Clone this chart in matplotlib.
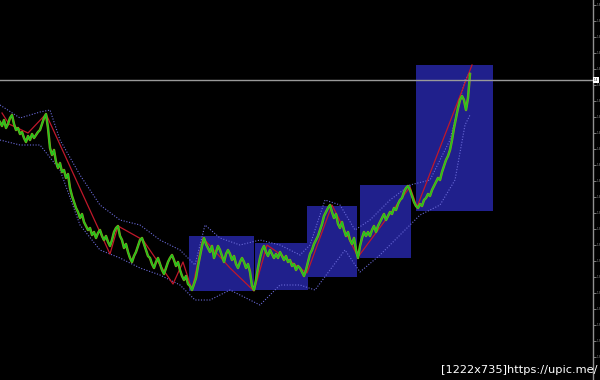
import numpy as np
import matplotlib
matplotlib.use("Agg")
import matplotlib.pyplot as plt
from matplotlib.patches import Rectangle
from matplotlib.ticker import FuncFormatter

# price (close) sampled every 2 bars
bars = np.arange(0, 472, 2)
close = [378, 374, 380, 372, 376, 382, 385, 376, 370, 372, 366, 368, 362, 358, 364, 360,
         366, 362, 365, 368, 370, 376, 382, 386, 372, 352, 345, 350, 338, 332, 337, 328,
         330, 322, 326, 312, 304, 298, 292, 288, 282, 286, 278, 274, 270, 272, 265, 268,
         262, 267, 270, 264, 260, 264, 258, 254, 260, 268, 272, 274, 264, 260, 252, 256,
         248, 242, 238, 244, 248, 254, 260, 262, 256, 250, 244, 242, 236, 232, 238, 242,
         236, 230, 226, 232, 238, 242, 245, 240, 234, 238, 230, 224, 220, 224, 216, 214,
         210, 216, 222, 234, 244, 254, 262, 256, 252, 248, 254, 242, 248, 254, 250, 244,
         238, 246, 250, 246, 240, 244, 236, 232, 238, 242, 238, 232, 236, 228, 214, 210,
         220, 232, 242, 250, 254, 248, 244, 250, 246, 242, 246, 242, 248, 244, 240, 244,
         238, 240, 234, 236, 230, 234, 232, 228, 224, 230, 238, 246, 250, 256, 260, 264,
         270, 276, 284, 288, 292, 295, 288, 282, 286, 276, 272, 278, 270, 264, 268, 260,
         256, 262, 250, 242, 254, 262, 268, 264, 268, 264, 270, 274, 268, 274, 278, 282,
         286, 280, 284, 288, 286, 292, 290, 296, 300, 302, 308, 312, 314, 310, 304, 298,
         294, 292, 296, 294, 300, 302, 306, 304, 310, 314, 318, 322, 320, 328, 334, 340,
         344, 350, 360, 372, 382, 392, 400, 404, 400, 390, 402, 426]

# zigzag swing points
zz_bar = [2, 9, 28, 46, 110, 118, 143, 173, 183, 192, 203, 230, 254, 267, 307, 332, 358, 410, 417, 472]
zz_val = [387, 376, 367, 386, 246, 274, 260, 216, 238, 210, 262, 232, 209, 255, 227, 295, 243, 313, 293, 435]

# envelope bands
up_bar = [0, 20, 40, 50, 60, 80, 100, 120, 140, 160, 180, 195, 205, 220, 240, 260, 280, 300,
          310, 325, 340, 355, 370, 390, 410, 430, 450, 465, 470]
up_val = [395, 382, 388, 390, 360, 325, 295, 280, 275, 260, 250, 235, 275, 262, 255, 260, 255,
          245, 255, 300, 295, 270, 280, 300, 315, 320, 360, 420, 428]
lo_bar = [0, 20, 40, 60, 80, 100, 120, 140, 160, 180, 195, 210, 230, 250, 260, 280, 300, 315,
          330, 345, 360, 380, 400, 420, 440, 455, 465, 470]
lo_val = [360, 355, 355, 330, 275, 250, 242, 232, 225, 215, 200, 200, 210, 200, 195, 215, 215,
          210, 230, 250, 228, 245, 265, 285, 295, 320, 375, 385]

# range boxes: start bar, end bar, low, high
box_start = [189, 255, 307, 360, 416]
box_end = [254, 308, 357, 411, 493]
box_low = [209, 210, 223, 242, 289]
box_high = [264, 257, 294, 315, 435]

level = 420
ticks = [495, 479, 463, 447, 431, 415, 399, 383, 367, 351, 335, 319, 303, 287, 271,
         255, 239, 223, 207, 191, 175, 159, 143]

fig = plt.figure(figsize=(6, 3.8), dpi=100, facecolor="black")
ax = fig.add_axes([0, 0, 593 / 600, 1])
ax.set_facecolor("black")

for s, e, lo, hi in zip(box_start, box_end, box_low, box_high):
    ax.add_patch(Rectangle((s, lo), e - s, hi - lo, facecolor="#20208c", edgecolor="none", zorder=1))

ax.plot(up_bar, up_val, color="#6a6ad8", lw=0.8, ls=(0, (1, 1.5)), zorder=2)
ax.plot(lo_bar, lo_val, color="#6a6ad8", lw=0.8, ls=(0, (1, 1.5)), zorder=2)
ax.plot(zz_bar, zz_val, color="#c0182a", lw=0.9, zorder=3)
ax.plot(bars, close, color="#8c9a1c", lw=1.8, zorder=4)
ax.plot(bars, close, color="#1ec81e", lw=1.0, zorder=5)

ax.axhline(level, color="#9a9a9a", lw=1, zorder=6)

ax.set_xlim(0, 593)
ax.set_ylim(120, 500)
for side in ["left", "top", "bottom"]:
    ax.spines[side].set_visible(False)
ax.spines["right"].set_color("#909090")
ax.spines["right"].set_linewidth(1)
ax.set_xticks([])
ax.yaxis.tick_right()
ax.set_yticks(ticks)
ax.yaxis.set_major_formatter(FuncFormatter(lambda v, p: f"{1.2 + v * 0.0005:.1f}"))
ax.tick_params(axis="y", colors="#909090", length=2, width=0.6, labelsize=2, pad=0.5)

ax.text(1.002, (level - 120) / 380, f"{1.2 + level * 0.0005:.1f}", transform=ax.transAxes,
        fontsize=2, color="black", va="center", ha="left",
        bbox=dict(facecolor="white", edgecolor="none", pad=0.6))

fig.text(0.995, 0.027, "[1222x735]https://upic.me/", color="white", fontsize=8.2,
         ha="right", va="center")

fig.savefig("out.png", dpi=100, facecolor="black")
